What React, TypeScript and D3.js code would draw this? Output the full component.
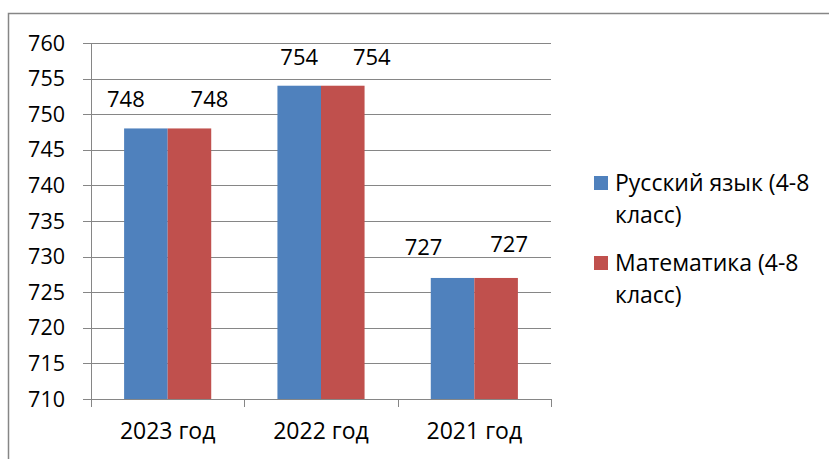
import React, { useEffect, useRef } from 'react';
import * as d3 from 'd3';

const categories = ['2023 год', '2022 год', '2021 год'];
const seriesNames = ['Русский язык (4-8 класс)', 'Математика (4-8 класс)'];
const russian = [748, 754, 727];
const math = [748, 754, 727];
const yTicks = [710, 715, 720, 725, 730, 735, 740, 745, 750, 755, 760];

const colors = ['#4F81BD', '#C0504D'];
// hand-moved data labels in the original: [dx, dy] per category, per series
const labelShift = [
  [[-20, 0], [20, 0]],
  [[0, 0], [29, 0]],
  [[-29, -2], [13, -5]],
];

const FONT = '"Open Sans", sans-serif';

export default function App() {
  const svgRef = useRef<SVGSVGElement>(null);
  const width = 830;
  const height = 459;

  useEffect(() => {
    if (!svgRef.current) return;
    const svg = d3.select(svgRef.current);
    svg.selectAll('*').remove();

    // outer chart border (only top and left are visible)
    svg.append('path')
      .attr('d', 'M8.5,470 L8.5,13.5 L829,13.5')
      .attr('fill', 'none')
      .attr('stroke', '#868686')
      .attr('stroke-width', 1.5);

    const plot = { left: 91, right: 551, top: 43, bottom: 399 };

    const y = d3.scaleLinear()
      .domain([710, 760])
      .range([plot.bottom, plot.top]);

    const x = d3.scaleBand<string>()
      .domain(categories)
      .range([plot.left, plot.right])
      .padding(0);

    const xSub = d3.scaleBand<number>()
      .domain([0, 1])
      .range([0, x.bandwidth()])
      .paddingInner(0)
      .paddingOuter(0.76);

    // gridlines
    svg.append('g')
      .selectAll('line')
      .data(yTicks)
      .enter()
      .append('line')
      .attr('x1', plot.left - 8)
      .attr('x2', plot.right)
      .attr('y1', d => Math.round(y(d)) + 0.5)
      .attr('y2', d => Math.round(y(d)) + 0.5)
      .attr('stroke', '#868686')
      .attr('stroke-width', 1);

    // y tick labels
    svg.append('g')
      .selectAll('text')
      .data(yTicks)
      .enter()
      .append('text')
      .attr('x', 65)
      .attr('y', d => y(d) + 7.5)
      .attr('text-anchor', 'end')
      .attr('font-family', FONT)
      .attr('font-size', 21.5)
      .attr('fill', '#000')
      .text(d => d);

    // bars
    const values = [russian, math];
    const groups = svg.append('g')
      .selectAll('g')
      .data(categories)
      .enter()
      .append('g')
      .attr('transform', d => `translate(${x(d)},0)`);

    groups.selectAll('rect')
      .data((_, i) => values.map((s, k) => ({ k, v: s[i] })))
      .enter()
      .append('rect')
      .attr('x', d => xSub(d.k) || 0)
      .attr('y', d => y(d.v))
      .attr('width', xSub.bandwidth())
      .attr('height', d => plot.bottom - y(d.v))
      .attr('fill', d => colors[d.k]);

    // data labels
    groups.each(function (_, i) {
      d3.select(this)
        .selectAll('text')
        .data(values.map((s, k) => ({ k, v: s[i] })))
        .enter()
        .append('text')
        .attr('x', d => (xSub(d.k) || 0) + xSub.bandwidth() / 2 + labelShift[i][d.k][0])
        .attr('y', d => y(d.v) - 21 + labelShift[i][d.k][1])
        .attr('text-anchor', 'middle')
        .attr('font-family', FONT)
        .attr('font-size', 22)
        .attr('fill', '#000')
        .text(d => d.v);
    });

    // axes lines
    svg.append('line')
      .attr('x1', plot.left + 0.5).attr('x2', plot.left + 0.5)
      .attr('y1', plot.top).attr('y2', plot.bottom + 8)
      .attr('stroke', '#868686');
    svg.append('line')
      .attr('x1', plot.left).attr('x2', plot.right)
      .attr('y1', plot.bottom + 0.5).attr('y2', plot.bottom + 0.5)
      .attr('stroke', '#868686');

    // x ticks
    const xTickPos = categories.map(c => x(c) || 0).concat([plot.right]);
    svg.append('g')
      .selectAll('line')
      .data(xTickPos)
      .enter()
      .append('line')
      .attr('x1', d => Math.round(d) + 0.5)
      .attr('x2', d => Math.round(d) + 0.5)
      .attr('y1', plot.bottom)
      .attr('y2', plot.bottom + 8)
      .attr('stroke', '#868686');

    // x labels
    svg.append('g')
      .selectAll('text')
      .data(categories)
      .enter()
      .append('text')
      .attr('x', d => (x(d) || 0) + x.bandwidth() / 2)
      .attr('y', 439)
      .attr('text-anchor', 'middle')
      .attr('font-family', FONT)
      .attr('font-size', 23)
      .attr('fill', '#000')
      .text(d => d);

    // legend
    const legend = svg.append('g');
    seriesNames.forEach((name, k) => {
      const top = 176 + k * 80;
      legend.append('rect')
        .attr('x', 594)
        .attr('y', top)
        .attr('width', 14)
        .attr('height', 14)
        .attr('fill', colors[k]);
      const parts = name.split(' (');
      const lines = [parts[0] + ' (' + parts[1].split(' ')[0], parts[1].split(' ')[1]];
      lines.forEach((ln, j) => {
        legend.append('text')
          .attr('x', 615)
          .attr('y', top + 15 + j * 32)
          .attr('font-family', FONT)
          .attr('font-size', 23)
          .attr('fill', '#000')
          .text(ln);
      });
    });
  }, []);

  return (
    <svg
      ref={svgRef}
      width={width}
      height={height}
      style={{ position: 'fixed', left: 0, top: 0, background: '#fff' }}
    />
  );
}
